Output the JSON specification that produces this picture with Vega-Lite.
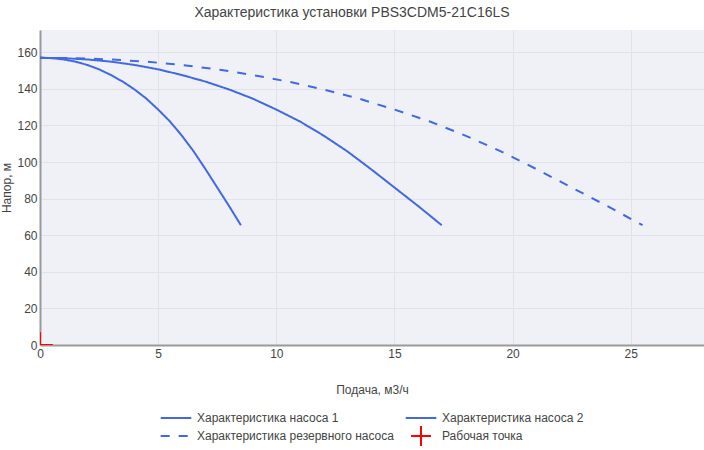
{
  "$schema": "https://vega.github.io/schema/vega-lite/v6.json",
  "width": 664,
  "height": 315,
  "autosize": {"type": "none"},
  "padding": {"left": 40, "top": 30, "right": 0, "bottom": 105},
  "background": "white",
  "title": {
    "text": "Характеристика установки PBS3CDM5-21C16LS",
    "font": "Liberation Sans",
    "fontSize": 14,
    "fontWeight": "normal",
    "color": "#444",
    "anchor": "middle",
    "frame": "group",
    "dx": -20,
    "offset": 10
  },
  "datasets": {
    "curves": [
      {"series": "Характеристика насоса 1", "q": 0, "h": 157},
      {"series": "Характеристика насоса 1", "q": 0.5, "h": 156.8},
      {"series": "Характеристика насоса 1", "q": 1, "h": 156.1},
      {"series": "Характеристика насоса 1", "q": 1.5, "h": 154.9},
      {"series": "Характеристика насоса 1", "q": 2, "h": 153.1},
      {"series": "Характеристика насоса 1", "q": 2.5, "h": 150.7},
      {"series": "Характеристика насоса 1", "q": 3, "h": 147.6},
      {"series": "Характеристика насоса 1", "q": 3.5, "h": 144},
      {"series": "Характеристика насоса 1", "q": 4, "h": 139.7},
      {"series": "Характеристика насоса 1", "q": 4.5, "h": 134.7},
      {"series": "Характеристика насоса 1", "q": 5, "h": 128.7},
      {"series": "Характеристика насоса 1", "q": 5.5, "h": 122.2},
      {"series": "Характеристика насоса 1", "q": 6, "h": 114.5},
      {"series": "Характеристика насоса 1", "q": 6.5, "h": 105.9},
      {"series": "Характеристика насоса 1", "q": 7, "h": 96.2},
      {"series": "Характеристика насоса 1", "q": 7.5, "h": 86.1},
      {"series": "Характеристика насоса 1", "q": 8, "h": 76},
      {"series": "Характеристика насоса 1", "q": 8.5, "h": 65.5},
      {"series": "Характеристика насоса 2", "q": 0, "h": 157},
      {"series": "Характеристика насоса 2", "q": 1, "h": 156.8},
      {"series": "Характеристика насоса 2", "q": 2, "h": 156.1},
      {"series": "Характеристика насоса 2", "q": 3, "h": 154.9},
      {"series": "Характеристика насоса 2", "q": 4, "h": 153.1},
      {"series": "Характеристика насоса 2", "q": 5, "h": 150.7},
      {"series": "Характеристика насоса 2", "q": 6, "h": 147.6},
      {"series": "Характеристика насоса 2", "q": 7, "h": 144},
      {"series": "Характеристика насоса 2", "q": 8, "h": 139.7},
      {"series": "Характеристика насоса 2", "q": 9, "h": 134.7},
      {"series": "Характеристика насоса 2", "q": 10, "h": 128.7},
      {"series": "Характеристика насоса 2", "q": 11, "h": 122.2},
      {"series": "Характеристика насоса 2", "q": 12, "h": 114.5},
      {"series": "Характеристика насоса 2", "q": 13, "h": 105.9},
      {"series": "Характеристика насоса 2", "q": 14, "h": 96.2},
      {"series": "Характеристика насоса 2", "q": 15, "h": 86.1},
      {"series": "Характеристика насоса 2", "q": 16, "h": 76},
      {"series": "Характеристика насоса 2", "q": 17, "h": 65.5},
      {"series": "Характеристика резервного насоса", "q": 0, "h": 157},
      {"series": "Характеристика резервного насоса", "q": 1.5, "h": 156.8},
      {"series": "Характеристика резервного насоса", "q": 3, "h": 156.1},
      {"series": "Характеристика резервного насоса", "q": 4.5, "h": 154.9},
      {"series": "Характеристика резервного насоса", "q": 6, "h": 153.1},
      {"series": "Характеристика резервного насоса", "q": 7.5, "h": 150.7},
      {"series": "Характеристика резервного насоса", "q": 9, "h": 147.6},
      {"series": "Характеристика резервного насоса", "q": 10.5, "h": 144},
      {"series": "Характеристика резервного насоса", "q": 12, "h": 139.7},
      {"series": "Характеристика резервного насоса", "q": 13.5, "h": 134.7},
      {"series": "Характеристика резервного насоса", "q": 15, "h": 128.7},
      {"series": "Характеристика резервного насоса", "q": 16.5, "h": 122.2},
      {"series": "Характеристика резервного насоса", "q": 18, "h": 114.5},
      {"series": "Характеристика резервного насоса", "q": 19.5, "h": 105.9},
      {"series": "Характеристика резервного насоса", "q": 21, "h": 96.2},
      {"series": "Характеристика резервного насоса", "q": 22.5, "h": 86.1},
      {"series": "Характеристика резервного насоса", "q": 24, "h": 76},
      {"series": "Характеристика резервного насоса", "q": 25.5, "h": 65.5}
    ],
    "work": [
      {"series": "Рабочая точка", "q": 0, "h": 0}
    ]
  },
  "encoding": {
    "x": {
      "field": "q", "type": "quantitative",
      "scale": {"domain": [0, 28.1], "nice": false, "zero": false},
      "axis": {"title": "Подача, м3/ч", "values": [0, 5, 10, 15, 20, 25]}
    },
    "y": {
      "field": "h", "type": "quantitative",
      "scale": {"domain": [0, 172.2], "nice": false, "zero": false},
      "axis": {"title": "Напор, м", "values": [0, 20, 40, 60, 80, 100, 120, 140, 160], "labelOverlap": false}
    }
  },
  "layer": [
    {
      "data": {"name": "curves"},
      "mark": {"type": "line", "strokeWidth": 2, "clip": true},
      "encoding": {
        "color": {
          "field": "series", "type": "nominal",
          "scale": {
            "domain": ["Характеристика насоса 1", "Характеристика насоса 2", "Характеристика резервного насоса", "Рабочая точка"],
            "range": ["#4169e1", "#4169e1", "#4169e1", "#ff0000"]
          },
          "legend": {"title": null}
        },
        "strokeDash": {
          "field": "series", "type": "nominal",
          "scale": {
            "domain": ["Характеристика насоса 1", "Характеристика насоса 2", "Характеристика резервного насоса", "Рабочая точка"],
            "range": [[1, 0], [1, 0], [9, 9], [1, 0]]
          },
          "legend": {"title": null}
        }
      }
    },
    {
      "data": {"name": "work"},
      "mark": {"type": "point", "size": 544, "strokeWidth": 2, "filled": false, "clip": true, "opacity": 1},
      "encoding": {
        "color": {"field": "series", "type": "nominal"},
        "shape": {
          "field": "series", "type": "nominal",
          "scale": {
            "domain": ["Характеристика насоса 1", "Характеристика насоса 2", "Характеристика резервного насоса", "Рабочая точка"],
            "range": ["M-1.7,0H1.7", "M-1.7,0H1.7", "M-1.7,0H1.7", "M-1.1,0H1.1M0,-1.1V1.1"]
          },
          "legend": {"title": null}
        }
      }
    }
  ],
  "config": {
    "view": {"fill": "#f0f1f6", "stroke": null},
    "axis": {
      "labelFont": "Liberation Sans",
      "labelFontSize": 12,
      "labelColor": "#444",
      "labelOverlap": false,
      "titleFont": "Liberation Sans",
      "titleFontSize": 12,
      "titleFontWeight": "normal",
      "titleColor": "#444",
      "gridColor": "#e1e3ea",
      "gridWidth": 1,
      "domainColor": "#9a9a9a",
      "domainWidth": 2,
      "ticks": false,
      "labelPadding": 3
    },
    "axisX": {"titlePadding": 25, "labelFlush": false},
    "axisY": {"titlePadding": 3, "labelFlush": false},
    "legend": {
      "orient": "none",
      "legendX": 120,
      "legendY": 378,
      "columns": 2,
      "direction": "horizontal",
      "symbolSize": 324,
      "symbolStrokeWidth": 2,
      "symbolOffset": 6,
      "labelOffset": 11,
      "labelFont": "Liberation Sans",
      "labelFontSize": 12,
      "labelColor": "#444",
      "labelLimit": 400,
      "rowPadding": -2,
      "columnPadding": 7,
      "padding": 0,
      "symbolType": "M-1.7,0H1.7"
    }
  }
}
